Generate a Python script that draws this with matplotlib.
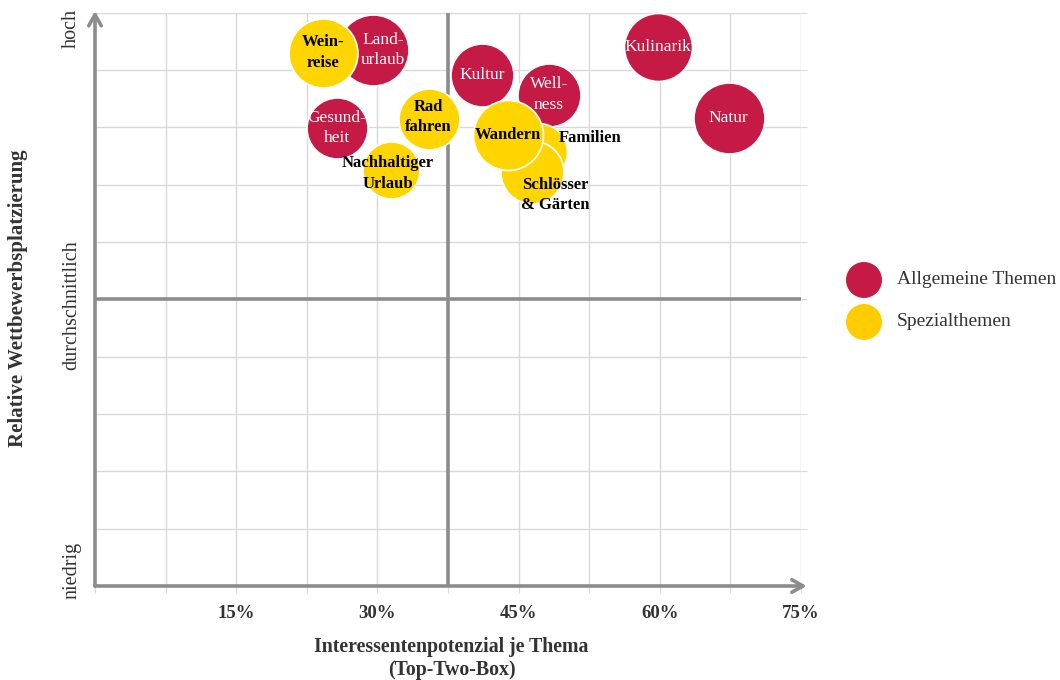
import matplotlib
matplotlib.use("Agg")
import matplotlib.pyplot as plt
import numpy as np

# ---- data ----
themes = ["Landurlaub", "Gesundheit", "Kultur", "Wellness", "Kulinarik", "Natur",
          "Weinreise", "Rad fahren", "Nachhaltiger Urlaub", "Familien", "Schlösser & Gärten", "Wandern"]
labels = ["Land-\nurlaub", "Gesund-\nheit", "Kultur", "Well-\nness", "Kulinarik", "Natur",
          "Wein-\nreise", "Rad\nfahren", "Nachhaltiger\nUrlaub", "Familien", "Schlösser\n& Gärten", "Wandern"]
groups = ["Allgemeine Themen"] * 6 + ["Spezialthemen"] * 6
interest_pct = [29.5, 25.7, 41.1, 48.2, 59.8, 67.3, 24.2, 35.5, 31.4, 47.1, 46.4, 43.9]
competition = [9.35, 7.99, 8.92, 8.57, 9.40, 8.16, 9.30, 8.15, 7.25, 7.57, 7.22, 7.86]
bubble_size = [35.5, 30.5, 31.5, 31.5, 34.0, 35.5, 34.5, 30.5, 28.5, 29.0, 31.5, 35.0]
xticks_pct = [15, 30, 45, 60, 75]
y_level_labels = ["niedrig", "durchschnittlich", "hoch"]

# label offsets (data units) for labels not centred in bubble
label_shift = {"Landurlaub": (1.1, 0.0), "Familien": (5.5, 0.25), "Schlösser & Gärten": (2.5, -0.40),
               "Nachhaltiger Urlaub": (-0.3, -0.05), "Rad fahren": (-0.1, 0.03)}

colors = {"Allgemeine Themen": "#C41A45", "Spezialthemen": "#FFD500"}
legend_colors = {"Allgemeine Themen": "#C41A45", "Spezialthemen": "#FFCC00"}

plt.rcParams["font.family"] = ["Liberation Serif", "DejaVu Serif"]

W, H = 1060, 680
fig = plt.figure(figsize=(W / 100, H / 100), dpi=100)
x0, x1, ytop, ybot = 95, 801, 12.7, 586
ax = fig.add_axes([x0 / W, (H - ybot) / H, (x1 - x0) / W, (ybot - ytop) / H])
ax.set_xlim(0, 75)
ax.set_ylim(0, 10)

grid_c = "#D9D9D9"
axis_c = "#8C8C8C"
for gx in np.arange(7.5, 75.1, 7.5):
    ax.axvline(gx, color=grid_c, lw=1.0, zorder=0)
for gy in range(1, 11):
    ax.axhline(gy, color=grid_c, lw=1.0, zorder=0)
ax.axvline(37.5, color=axis_c, lw=2.6, zorder=1)
ax.axhline(5, color=axis_c, lw=2.6, zorder=1)

for s in ["top", "right", "left", "bottom"]:
    ax.spines[s].set_visible(False)

# axes arrows
ax.annotate("", xy=(0, 10.03), xytext=(0, 0), xycoords="data",
            arrowprops=dict(arrowstyle="->,head_length=0.8,head_width=0.45", color=axis_c, lw=2.6,
                            shrinkA=0, shrinkB=0), annotation_clip=False, zorder=2)
ax.annotate("", xy=(75.6, 0), xytext=(0, 0), xycoords="data",
            arrowprops=dict(arrowstyle="->,head_length=0.8,head_width=0.45", color=axis_c, lw=2.6,
                            shrinkA=0, shrinkB=0), annotation_clip=False, zorder=2)

# ticks
tick_pos = np.arange(0, 75.1, 7.5)
ax.set_xticks(tick_pos)
ax.set_xticklabels([f"{int(t)}%" if t == int(t) and int(t) in xticks_pct else "" for t in tick_pos])
ax.tick_params(axis="x", length=5, color=grid_c, pad=9, labelsize=13.5, labelcolor="#333333")
for lab in ax.get_xticklabels():
    lab.set_fontweight("bold")
ax.set_yticks([])
ax2 = ax.twinx()
ax2.set_ylim(0, 10)
ax2.set_yticks(range(1, 11))
ax2.set_yticklabels([])
ax2.tick_params(axis="y", length=4, color=grid_c)
for s in ["top", "right", "left", "bottom"]:
    ax2.spines[s].set_visible(False)

# bubbles
for i in range(len(themes)):
    r = bubble_size[i]
    ax.scatter(interest_pct[i], competition[i], s=(2 * r * 0.72) ** 2, color=colors[groups[i]],
               edgecolors="white", linewidths=1.2, zorder=3 + i * 0.01)

for i in range(len(themes)):
    dx, dy = label_shift.get(themes[i], (0, 0))
    if groups[i] == "Allgemeine Themen":
        ax.text(interest_pct[i] + dx, competition[i] + dy, labels[i], ha="center", va="center",
                color="white", fontsize=12.5, linespacing=1.4, zorder=5)
    else:
        ax.text(interest_pct[i] + dx, competition[i] + dy, labels[i], ha="center", va="center",
                color="black", fontsize=12, fontweight="bold", linespacing=1.4, zorder=5)

# y level labels
for yv, txt in zip([0.28, 4.9, 9.73], y_level_labels):
    ax.text(-0.033, yv, txt, transform=ax.get_yaxis_transform(), rotation=90, ha="center", va="center",
            fontsize=14.5, color="#333333")
fig.text(18 / W, 1 - 298 / H, "Relative Wettbewerbsplatzierung", rotation=90, ha="center", va="center",
         fontsize=15, fontweight="bold", color="#333333")
fig.text(451 / W, 1 - 647 / H, "Interessentenpotenzial je Thema", ha="center", va="center",
         fontsize=14.3, fontweight="bold", color="#333333")
fig.text(452 / W, 1 - 670 / H, "(Top-Two-Box)", ha="center", va="center",
         fontsize=14.3, fontweight="bold", color="#333333")

# legend
lax = fig.add_axes([0, 0, 1, 1], facecolor="none")
lax.set_xlim(0, W)
lax.set_ylim(H, 0)
lax.axis("off")
for yy, g in zip([280, 322], ["Allgemeine Themen", "Spezialthemen"]):
    lax.scatter([864], [yy], s=(2 * 18 * 0.72) ** 2, color=legend_colors[g], edgecolors="none")
    lax.text(897, yy, g, ha="left", va="center", fontsize=14, color="#333333")

fig.savefig("out.png", dpi=100)
